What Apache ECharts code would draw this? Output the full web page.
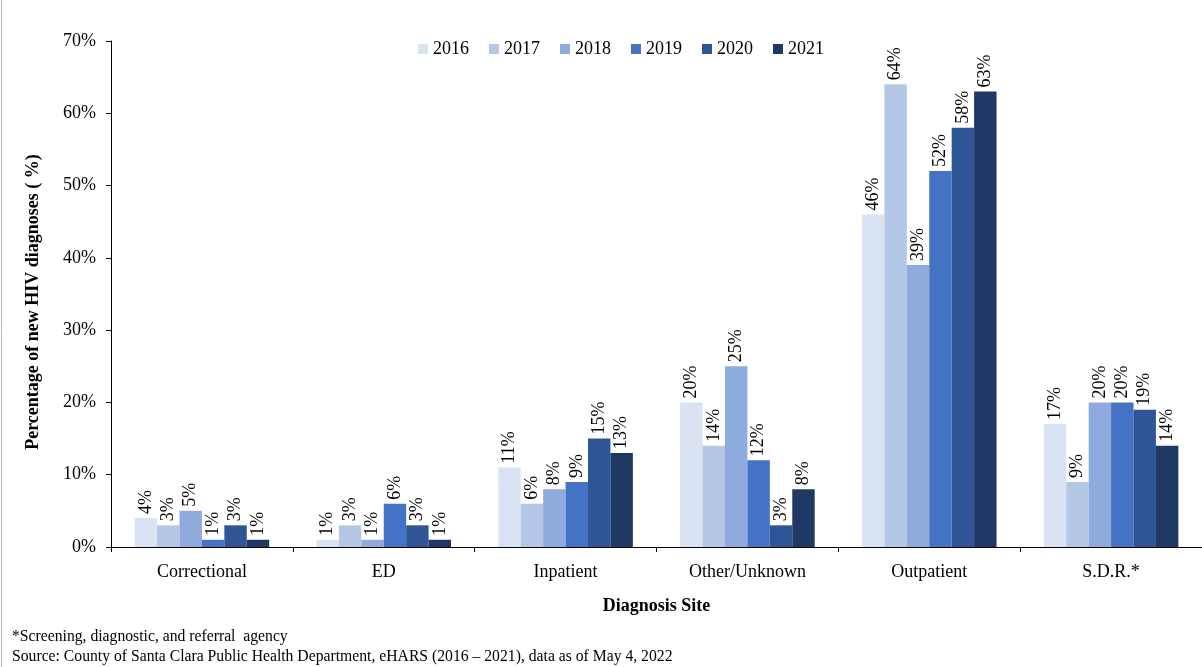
<!DOCTYPE html>
<html>
<head>
<meta charset="utf-8">
<script src="https://cdn.jsdelivr.net/npm/echarts@6/dist/echarts.min.js"></script>
<style>
html,body{margin:0;padding:0;background:#fff;}
#chart{width:1202px;height:667px;}
</style>
</head>
<body>
<div id="chart"></div>
<script>
const categories = ['Correctional', 'ED', 'Inpatient', 'Other/Unknown', 'Outpatient', 'S.D.R.*'];
const years = ['2016', '2017', '2018', '2019', '2020', '2021'];
const v2016 = [4, 1, 11, 20, 46, 17];
const v2017 = [3, 3, 6, 14, 64, 9];
const v2018 = [5, 1, 8, 25, 39, 20];
const v2019 = [1, 6, 9, 12, 52, 20];
const v2020 = [3, 3, 15, 3, 58, 19];
const v2021 = [1, 1, 13, 8, 63, 14];
const yTicks = [0, 10, 20, 30, 40, 50, 60, 70];

const seriesValues = [v2016, v2017, v2018, v2019, v2020, v2021];
const colors = ['#DAE3F3', '#B4C7E7', '#8FAADC', '#4472C4', '#2F5597', '#203864'];
const FONT = '"Liberation Serif", "Times New Roman", serif';

const chart = echarts.init(document.getElementById('chart'));
chart.setOption({
  animation: false,
  backgroundColor: '#fff',
  textStyle: { fontFamily: FONT, color: '#000' },
  legend: {
    top: 35,
    left: 413,
    itemWidth: 10,
    itemHeight: 10,
    itemGap: 20,
    icon: 'rect',
    textStyle: { fontFamily: FONT, fontSize: 18, color: '#000' },
    data: years
  },
  grid: { left: 111, right: -8, top: 41, bottom: 120, containLabel: false },
  xAxis: {
    type: 'category',
    data: categories,
    name: 'Diagnosis Site',
    nameLocation: 'middle',
    nameGap: 50,
    nameTextStyle: { fontFamily: FONT, fontSize: 18, fontWeight: 'bold', color: '#000' },
    axisLine: { lineStyle: { color: '#000', width: 1 } },
    axisTick: { show: true, length: 5, lineStyle: { color: '#000' } },
    axisLabel: { fontFamily: FONT, fontSize: 18, color: '#000', margin: 16 }
  },
  yAxis: {
    type: 'value',
    min: yTicks[0],
    max: yTicks[yTicks.length - 1],
    interval: 10,
    axisLine: { show: true, lineStyle: { color: '#000', width: 1 } },
    axisTick: { show: true, length: 5, lineStyle: { color: '#000' } },
    splitLine: { show: false },
    axisLabel: { fontFamily: FONT, fontSize: 18, color: '#000', margin: 15, formatter: '{value}%' }
  },
  series: years.map((y, i) => ({
    name: y,
    type: 'bar',
    data: seriesValues[i],
    barGap: '0%',
    barCategoryGap: '26%',
    itemStyle: { color: colors[i] },
    label: {
      show: true,
      position: 'top',
      rotate: 90,
      align: 'left',
      verticalAlign: 'middle',
      distance: 4,
      fontFamily: FONT,
      fontSize: 18,
      color: '#000',
      formatter: '{c}%'
    }
  })),
  graphic: [
    { type: 'line', shape: { x1: 1.5, y1: 0, x2: 1.5, y2: 667 }, style: { stroke: '#bbb', lineWidth: 1 } },
    { type: 'text', x: 33, y: 302, rotation: Math.PI / 2,
      style: { text: 'Percentage of new HIV diagnoses ( %)', font: 'bold 18px "Liberation Serif", serif', fill: '#000', align: 'center', verticalAlign: 'middle' } },
    { type: 'text', left: 12, top: 629, style: { text: '*Screening, diagnostic, and referral  agency', font: '15.7px "Liberation Serif", serif', fill: '#000' } },
    { type: 'text', left: 12, top: 649, style: { text: 'Source: County of Santa Clara Public Health Department, eHARS (2016 \u2013 2021), data as of May 4, 2022', font: '15.7px "Liberation Serif", serif', fill: '#000' } }
  ]
});
</script>
</body>
</html>
